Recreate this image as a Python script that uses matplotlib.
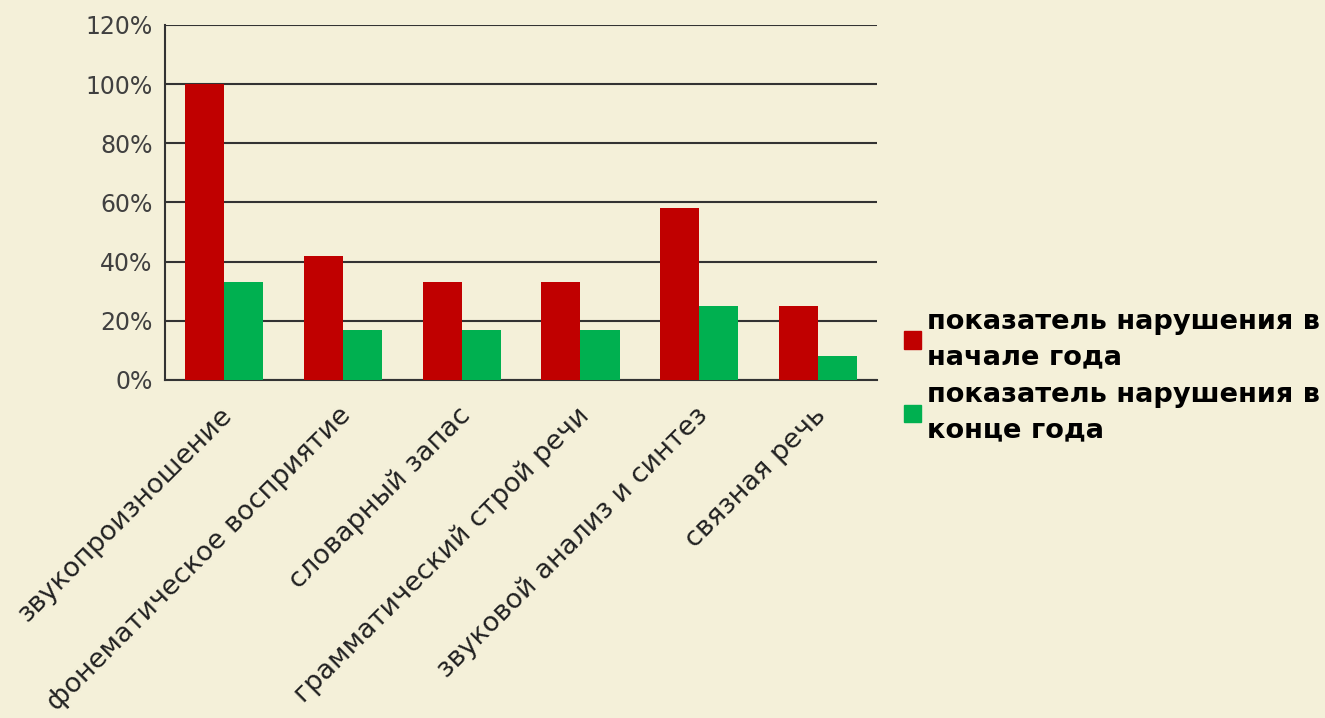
import matplotlib
matplotlib.use("Agg")
import matplotlib.pyplot as plt
import numpy as np
from matplotlib.patches import Patch

categories = ["звукопроизношение", "фонематическое восприятие", "словарный запас",
              "грамматический строй речи", "звуковой анализ и синтез", "связная речь"]
start_year = [100, 42, 33, 33, 58, 25]
end_year = [33, 17, 17, 17, 25, 8]
series_labels = ["показатель нарушения в\nначале года", "показатель нарушения в\nконце года"]
yticks = [0, 20, 40, 60, 80, 100, 120]

bg = "#F4F0D9"
plt.rcParams['font.family'] = ['DejaVu Sans']

fig = plt.figure(figsize=(13.25, 7.18), dpi=100, facecolor=bg)
ax = fig.add_axes([0.1245, 0.4708, 0.5375, 0.4944])
ax.set_facecolor(bg)

x = np.arange(len(categories))
w = 0.33
ax.bar(x - w/2, start_year, w, color="#C00000", zorder=3)
ax.bar(x + w/2, end_year, w, color="#00B050", zorder=3)

ax.set_xlim(-0.5, len(categories) - 0.5)
ax.set_ylim(0, 120)
ax.set_yticks(yticks)
ax.set_yticklabels([f"{v}%" for v in yticks], fontsize=17, color="#404040")
ax.yaxis.grid(True, color="#333333", linewidth=1.5, zorder=0)
ax.tick_params(axis='y', length=0, pad=9)
ax.tick_params(axis='x', length=0, pad=16)
for s in ["right", "top"]:
    ax.spines[s].set_visible(False)
for s in ["left", "bottom"]:
    ax.spines[s].set_color("#333333")
    ax.spines[s].set_linewidth(1.5)

ax.set_xticks(x - 0.04)
ax.set_xticklabels(categories, rotation=45, ha="right", rotation_mode="anchor",
                   fontsize=19.5, color="#222222")

handles = [Patch(color="#C00000"), Patch(color="#00B050")]
leg = fig.legend(handles, series_labels, loc="center left", bbox_to_anchor=(0.664, 0.476),
                 frameon=False, handlelength=0.6, handleheight=0.6, handletextpad=0.25,
                 labelspacing=0.45, prop={'weight': 'bold', 'size': 19.6})
for t in leg.get_texts():
    t.set_linespacing(1.45)

fig.savefig("out.png", dpi=100, facecolor=bg)
